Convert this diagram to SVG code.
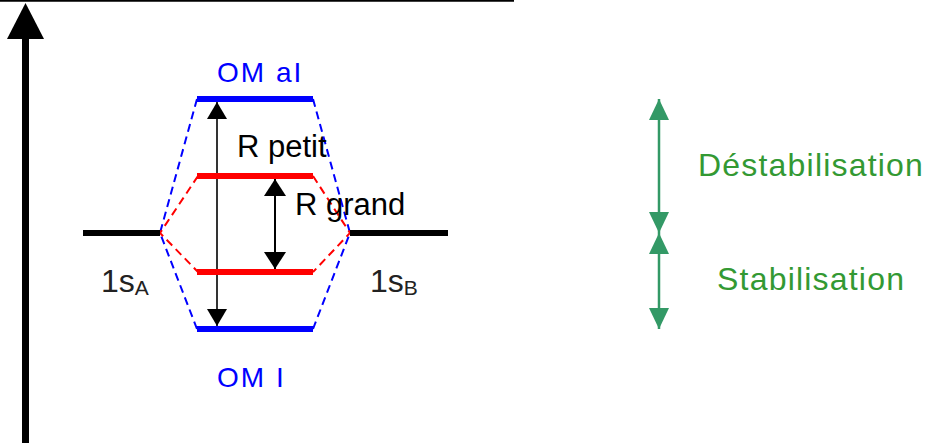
<svg xmlns="http://www.w3.org/2000/svg" width="928" height="443" viewBox="0 0 928 443">
  <style>
    .lvl { stroke-width: 6; fill: none; }
    .blk { stroke: #000000; }
    .blu { stroke: #0000FF; }
    .red { stroke: #FF0000; }
    .dash { stroke-width: 2; stroke-dasharray: 8 5; fill: none; }
    .t { font-family: "Liberation Sans", Arial, sans-serif; }
    .lbl { font-size: 31px; fill: #000000; }
    .om { font-size: 28px; fill: #0000FF; letter-spacing: 2px; }
    .ao { font-size: 32px; fill: #222222; }
    .sub { font-size: 21px; }
    .grn { font-size: 32px; fill: #339933; letter-spacing: 1.2px; }
  </style>
  <defs>
    <marker id="ahBlack" markerUnits="userSpaceOnUse" markerWidth="17" markerHeight="20" refX="17" refY="10" orient="auto-start-reverse">
      <path d="M0,0 L17,10 L0,20 z" fill="#000000"/>
    </marker>
    <marker id="ahBlack2" markerUnits="userSpaceOnUse" markerWidth="17" markerHeight="22" refX="17" refY="11" orient="auto-start-reverse">
      <path d="M0,0 L17,11 L0,22 z" fill="#000000"/>
    </marker>
    <marker id="ahGreen" markerUnits="userSpaceOnUse" markerWidth="21" markerHeight="20" refX="21" refY="10" orient="auto-start-reverse">
      <path d="M0,0 L21,10 L0,20 z" fill="#339966"/>
    </marker>
  </defs>

  <!-- top border line -->
  <line x1="0" y1="0.8" x2="514" y2="0.8" stroke="#000000" stroke-width="1.7"/>

  <!-- energy axis -->
  <g id="axis">
    <rect x="22" y="37" width="7" height="406" fill="#000000"/>
    <polygon points="25.5,3 7,39 44,39" fill="#000000"/>
  </g>

  <!-- connectors -->
  <g id="connectors">
    <polyline class="dash blu" points="197,99 160,233 197,329"/>
    <polyline class="dash blu" points="313,99 350,233 313,329"/>
    <polyline class="dash red" points="198,176 160,233 198,272"/>
    <polyline class="dash red" points="313,176 350,233 313,272"/>
    <line x1="217" y1="102" x2="217" y2="326" stroke="#000000" stroke-width="1.6" marker-start="url(#ahBlack)" marker-end="url(#ahBlack)"/>
    <line x1="275" y1="179" x2="275" y2="269" stroke="#000000" stroke-width="2" marker-start="url(#ahBlack2)" marker-end="url(#ahBlack2)"/>
    <line x1="659" y1="99" x2="659" y2="233" stroke="#339966" stroke-width="2.5" marker-start="url(#ahGreen)" marker-end="url(#ahGreen)"/>
    <line x1="659" y1="233" x2="659" y2="329" stroke="#339966" stroke-width="2.5" marker-start="url(#ahGreen)" marker-end="url(#ahGreen)"/>
  </g>

  <!-- atomic orbitals -->
  <g id="ao-A">
    <line class="lvl blk" x1="83" y1="233" x2="160" y2="233"/>
    <text class="t ao" x="101" y="292">1s<tspan class="sub" dy="3">A</tspan></text>
  </g>
  <g id="ao-B">
    <line class="lvl blk" x1="350" y1="233" x2="448" y2="233"/>
    <text class="t ao" x="370" y="292">1s<tspan class="sub" dy="3">B</tspan></text>
  </g>

  <!-- molecular orbitals -->
  <g id="om-al">
    <line class="lvl blu" x1="197" y1="99" x2="313" y2="99"/>
    <text class="t om" x="217" y="82">OM aI</text>
  </g>
  <g id="om-red-top">
    <line class="lvl red" x1="197" y1="176" x2="313" y2="176"/>
  </g>
  <g id="om-red-bottom">
    <line class="lvl red" x1="197" y1="272" x2="313" y2="272"/>
  </g>
  <g id="om-l">
    <line class="lvl blu" x1="197" y1="329" x2="313" y2="329"/>
    <text class="t om" x="217" y="387">OM I</text>
  </g>

  <g id="labels">
    <text class="t lbl" x="237" y="157">R petit</text>
    <text class="t lbl" x="295" y="215">R grand</text>
    <text class="t grn" x="698" y="176">Déstabilisation</text>
    <text class="t grn" x="717" y="290">Stabilisation</text>
  </g>
</svg>
